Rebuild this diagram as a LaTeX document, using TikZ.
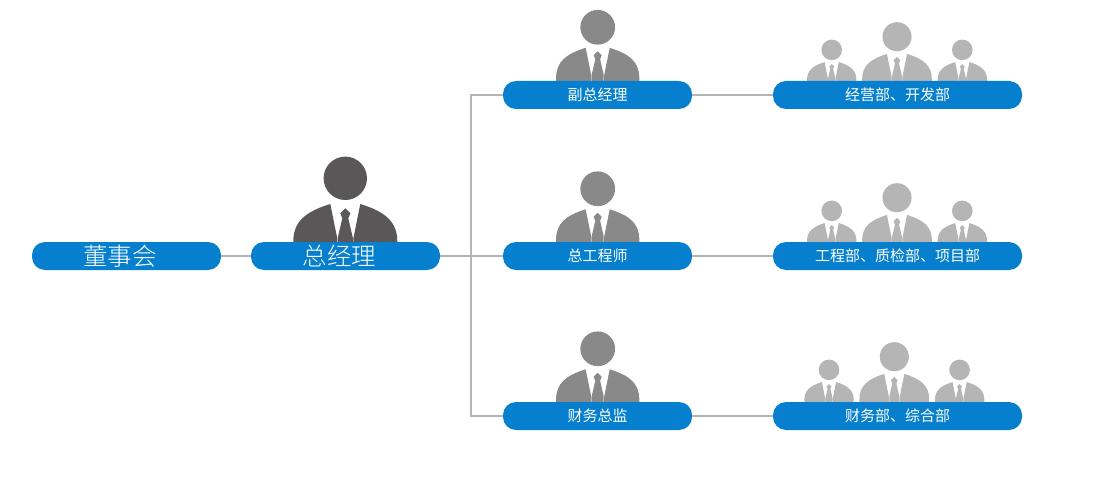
\documentclass[tikz,border=0pt]{standalone}
\usepackage{fontspec}
\setmainfont{Noto Sans CJK SC}
\newfontfamily\lightcjk{Noto Sans CJK SC}[UprightFont=* Light]
\newcommand{\person}[4]{%
  \begin{scope}[shift={(#1,#2)},scale=#3]
    \fill[#4] (0,-63.4) circle (21.7);
    \fill[#4] (-52,10) -- (-52,0) .. controls (-52,-20) and (-40,-30) .. (-15,-37.7)
      -- (-8,-3) -- (-8,10) -- cycle;
    \fill[#4] (52,10) -- (52,0) .. controls (52,-20) and (40,-30) .. (15,-37.7)
      -- (8,-3) -- (8,10) -- cycle;
    \fill[#4] (0,-33.4) -- (5,-28.4) -- (3,-23.4) -- (7.5,-4) -- (7.5,10) -- (-7.5,10)
      -- (-7.5,-4) -- (-3,-23.4) -- (-5,-28.4) -- cycle;
  \end{scope}}
\definecolor{barblue}{HTML}{0680CE}
\definecolor{lev1}{HTML}{595757}
\definecolor{lev2}{HTML}{898989}
\definecolor{lev3}{HTML}{B5B5B5}
\definecolor{wire}{HTML}{B4B4B4}
\tikzset{
  bar/.style={fill=barblue,rounded corners=13pt,minimum height=28pt,inner sep=0pt,text=white,anchor=center,font=\fontsize{15}{15}\selectfont},
  bigbar/.style={bar,font=\lightcjk\fontsize{24.5}{24.5}\selectfont},
  wirecon/.style={draw=wire,line width=1.2pt}
}
\begin{document}
\begin{tikzpicture}[x=1pt,y=-1pt]
\useasboundingbox (0,0) rectangle (1100,481);
\fill[white] (0,0) rectangle (1100,481);
\person{345.3}{241.7}{1}{lev1}
\person{597.7}{78}{0.8}{lev2}
\person{597.7}{239.5}{0.8}{lev2}
\person{597.7}{399.5}{0.8}{lev2}
\person{831.7}{80}{0.475}{lev3}
\person{897}{79.2}{0.67}{lev3}
\person{962.3}{80}{0.475}{lev3}
\person{831.7}{241}{0.475}{lev3}
\person{897}{240.2}{0.67}{lev3}
\person{962.3}{241}{0.475}{lev3}
\person{829}{400}{0.475}{lev3}
\person{894.3}{399.2}{0.67}{lev3}
\person{959.6}{400}{0.475}{lev3}
\node[bigbar,minimum width=189pt] (board) at (126.5,256) {董事会\hspace*{13pt}};
\node[bigbar,minimum width=189pt] (gm) at (345.5,256) {总经理\hspace*{12pt}};
\node[bar,minimum width=189pt] (vp) at (597.5,95) {副总经理};
\node[bar,minimum width=189pt] (ce) at (597.5,256) {总工程师};
\node[bar,minimum width=189pt] (cfo) at (597.5,416) {财务总监};
\node[bar,minimum width=249pt] (d1) at (897.5,95) {经营部、开发部};
\node[bar,minimum width=249pt] (d2) at (897.5,256) {工程部、质检部、项目部};
\node[bar,minimum width=249pt] (d3) at (897.5,416) {财务部、综合部};
\coordinate (trunk) at (471,256);
\draw[wirecon] (board) -- (gm);
\draw[wirecon] (gm) -- (ce);
\draw[wirecon] (trunk) |- (vp);
\draw[wirecon] (trunk) |- (cfo);
\draw[wirecon] (vp) -- (d1);
\draw[wirecon] (ce) -- (d2);
\draw[wirecon] (cfo) -- (d3);
\end{tikzpicture}
\end{document}
